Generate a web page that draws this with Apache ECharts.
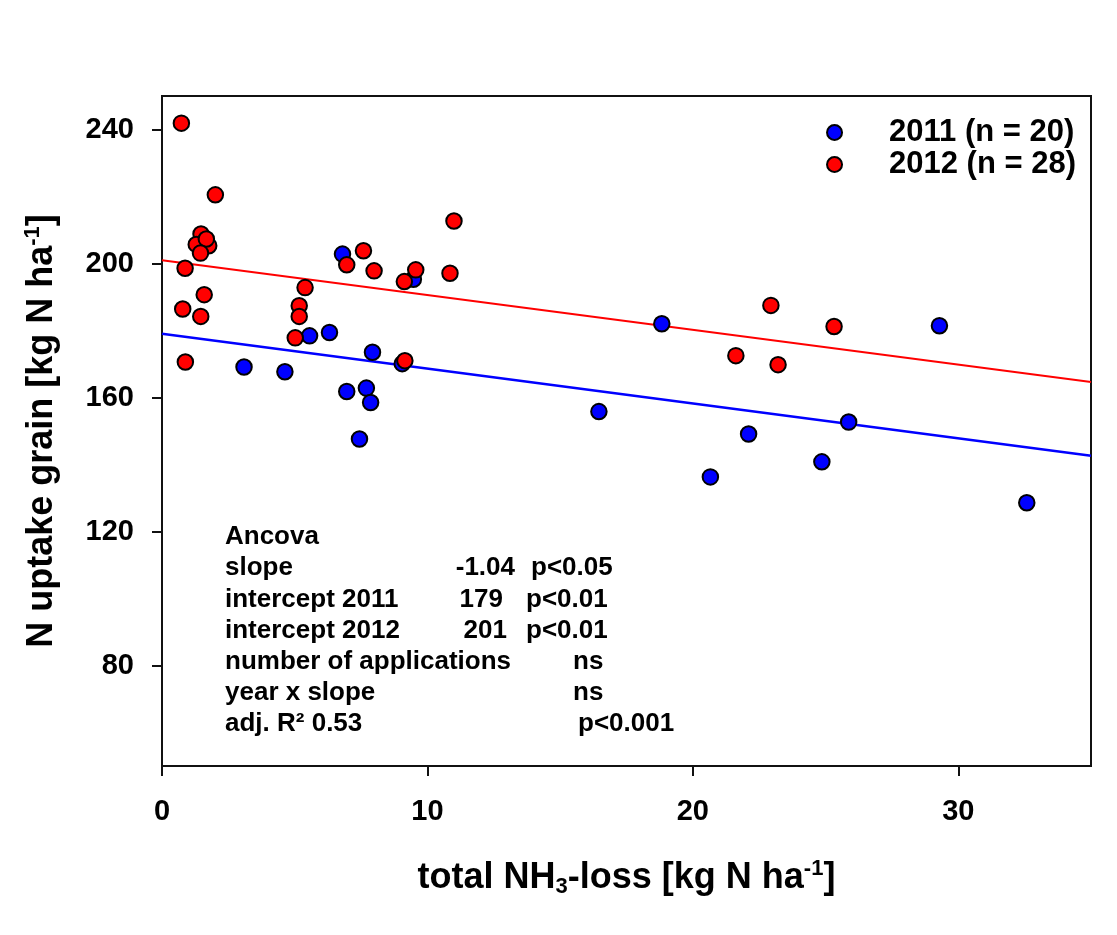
<!DOCTYPE html>
<html>
<head>
<meta charset="utf-8">
<script src="https://cdn.jsdelivr.net/npm/echarts@6/dist/echarts.min.js"></script>
<style>
  html, body { margin: 0; padding: 0; background: #fff; }
  #chart { width: 1117px; height: 935px; }
</style>
</head>
<body>
<div id="chart"></div>
<script>
// Field data: total NH3 loss (kg N/ha) vs. N uptake in grain (kg N/ha)
const years = ['2011', '2012'];

const loss2011 = [6.80, 9.47, 5.56, 6.31, 3.09, 4.63, 7.93, 9.05, 6.96, 7.70,
                  7.86, 7.44, 18.83, 16.46, 20.66, 29.29, 25.87, 22.10, 24.86, 32.58];
const uptake2011 = [202.8, 195.3, 178.4, 179.4, 169.1, 167.7, 173.5, 170.1, 161.8, 162.8,
                    158.5, 147.6, 182.0, 155.8, 136.3, 181.4, 152.7, 149.1, 140.8, 128.6];

const loss2012 = [0.73, 2.01, 1.47, 1.29, 1.76, 1.67, 1.45, 0.87, 0.78, 1.59,
                  1.46, 0.88, 5.39, 5.17, 5.17, 5.02, 6.96, 7.59, 7.99, 9.13,
                  9.56, 10.85, 11.00, 9.15, 22.94, 21.62, 23.21, 25.32];
const uptake2012 = [241.9, 220.5, 208.8, 205.7, 205.3, 207.3, 203.1, 198.6, 186.4, 190.7,
                    184.2, 170.6, 192.8, 187.4, 184.2, 177.8, 199.6, 203.8, 197.8, 194.6,
                    198.1, 197.1, 212.7, 171.0, 187.5, 172.5, 169.8, 181.2];

// ANCOVA results (common slope, year-specific intercepts)
const slope = -1.04;
const intercepts = [179, 201];

const xTicks = [0, 10, 20, 30];
const yTicks = [80, 120, 160, 200, 240];

const statLabels = ['Ancova', 'slope', 'intercept 2011', 'intercept 2012',
                    'number of applications', 'year x slope', 'adj. R\u00B2 0.53'];
const statValues = ['', slope.toFixed(2), String(intercepts[0]), String(intercepts[1]), '', '', ''];
const statSignif = ['', 'p<0.05', 'p<0.01', 'p<0.01', 'ns', 'ns', 'p<0.001'];

// ---- layout & style ----
const FONT = '"Liberation Sans", Arial, Helvetica, sans-serif';
const colors = ['#0000ff', '#ff0000'];
const lineWidths = [2.5, 2];
const X_MIN = 0, X_MAX = 35, Y_MIN = 50, Y_MAX = 250;

const pairs = (xs, ys) => xs.map((x, i) => [x, ys[i]]);
const scatterData = [pairs(loss2011, uptake2011), pairs(loss2012, uptake2012)];
const seriesNames = years.map((y, i) => `${y} (n = ${scatterData[i].length})`);

const series = [];
years.forEach((y, i) => {
  series.push({
    name: 'fit ' + y,
    type: 'line',
    data: [[X_MIN, intercepts[i] + slope * X_MIN], [X_MAX, intercepts[i] + slope * X_MAX]],
    showSymbol: false,
    symbol: 'none',
    silent: true,
    z: 2,
    lineStyle: { color: colors[i], width: lineWidths[i] }
  });
});
years.forEach((y, i) => {
  series.push({
    name: seriesNames[i],
    type: 'scatter',
    data: scatterData[i],
    symbol: 'circle',
    symbolSize: 15.5,
    z: 3 + i,
    itemStyle: { color: colors[i], borderColor: '#000', borderWidth: 2, opacity: 1 }
  });
});

// ANCOVA text block
const rowTop = 537, rowStep = 31.2;
const labelX = 225;
const valueRightX = [0, 515, 503, 507, 0, 0, 0];
const signifX = [0, 531, 526, 526, 573, 573, 578];
const textFont = 'bold 26px ' + FONT;
const graphic = [];
statLabels.forEach((lab, k) => {
  const yk = rowTop + k * rowStep;
  graphic.push({ type: 'text', x: labelX, y: yk, silent: true,
    style: { text: lab, font: textFont, fill: '#000', align: 'left', verticalAlign: 'middle' } });
  if (statValues[k]) {
    graphic.push({ type: 'text', x: valueRightX[k], y: yk, silent: true,
      style: { text: statValues[k], font: textFont, fill: '#000', align: 'right', verticalAlign: 'middle' } });
  }
  if (statSignif[k]) {
    graphic.push({ type: 'text', x: signifX[k], y: yk, silent: true,
      style: { text: statSignif[k], font: textFont, fill: '#000', align: 'left', verticalAlign: 'middle' } });
  }
});

const richScript = {
  sup: { fontFamily: FONT, fontWeight: 'bold', fontSize: 22, lineHeight: 22, verticalAlign: 'top', color: '#000' },
  sub: { fontFamily: FONT, fontWeight: 'bold', fontSize: 22, lineHeight: 16, verticalAlign: 'bottom', color: '#000' }
};

const chart = echarts.init(document.getElementById('chart'), null, { renderer: 'canvas' });
chart.setOption({
  backgroundColor: '#ffffff',
  animation: false,
  grid: {
    left: 162, right: 26, top: 96, bottom: 169,
    show: true, borderColor: '#111', borderWidth: 2, backgroundColor: 'transparent'
  },
  legend: {
    data: seriesNames,
    orient: 'vertical',
    right: 36, top: 112,
    itemWidth: 15, itemHeight: 15, itemGap: 1,
    icon: 'circle',
    selectedMode: false,
    textStyle: { fontFamily: FONT, fontWeight: 'bold', fontSize: 31, lineHeight: 30, color: '#000',
                 padding: [0, 0, 0, 42] }
  },
  xAxis: {
    type: 'value', min: X_MIN, max: X_MAX, interval: 10,
    name: 'total NH{sub|3}-loss [kg N ha{sup|-1}]',
    nameLocation: 'middle', nameGap: 92,
    nameTextStyle: { fontFamily: FONT, fontWeight: 'bold', fontSize: 36, lineHeight: 40, color: '#000',
                     rich: richScript },
    axisLine: { show: true, onZero: false, lineStyle: { color: '#111', width: 2 } },
    axisTick: { show: true, inside: false, length: 10, lineStyle: { color: '#111', width: 2 },
                customValues: xTicks },
    axisLabel: { fontFamily: FONT, fontWeight: 'bold', fontSize: 29, color: '#000', margin: 31,
                 customValues: xTicks },
    splitLine: { show: false }
  },
  yAxis: {
    type: 'value', min: Y_MIN, max: Y_MAX,
    name: 'N uptake grain [kg N ha{sup|-1}]',
    nameLocation: 'middle', nameGap: 100, nameRotate: 90,
    nameTextStyle: { fontFamily: FONT, fontWeight: 'bold', fontSize: 36, lineHeight: 40, color: '#000',
                     rich: richScript },
    axisLine: { show: true, onZero: false, lineStyle: { color: '#111', width: 2 } },
    axisTick: { show: true, inside: false, length: 10, lineStyle: { color: '#111', width: 2 },
                customValues: yTicks },
    axisLabel: { fontFamily: FONT, fontWeight: 'bold', fontSize: 29, color: '#000', margin: 28,
                 customValues: yTicks },
    splitLine: { show: false }
  },
  graphic: graphic,
  series: series
});
</script>
</body>
</html>
